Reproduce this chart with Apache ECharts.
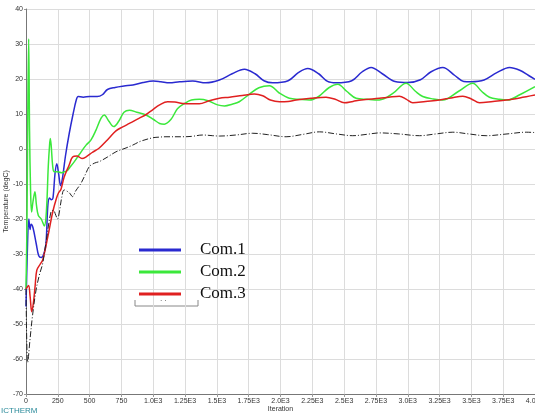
<!DOCTYPE html>
<html>
<head>
<meta charset="utf-8">
<script src="https://cdn.jsdelivr.net/npm/echarts@6/dist/echarts.min.js"></script>
<style>html,body{margin:0;padding:0;background:#fff}#c{width:535px;height:415px}</style>
</head>
<body>
<div id="c"></div>
<script>
// ---- data ----
const seriesNames = ['Com.1', 'Com.2', 'Com.3'];
const xTicks = [0, 250, 500, 750, 1000, 1250, 1500, 1750, 2000, 2250, 2500, 2750, 3000, 3250, 3500, 3750, 4000];

const com1 = [[0,-45],[10,-30],[22,-20],[32,-23],[40,-21.5],[55,-22.5],[80,-27],[100,-30.5],[120,-31],[140,-30],[157,-27],[172,-16],[185,-14],[200,-14.5],[212,-14],[228,-7],[242,-4.2],[256,-7],[272,-10.5],[288,-8],[310,-2],[340,4.5],[370,10],[395,14],[410,15],[450,14.8],[500,15],[560,15],[600,15.5],[640,17],[700,17.6],[770,18],[840,18.3],[920,19],[1000,19.4],[1060,19.2],[1127,18.9],[1207,19.2],[1310,19.4],[1413,18.9],[1520,19.7],[1620,21.5],[1716,22.8],[1800,21.5],[1870,19.5],[1939,18.9],[2060,19.5],[2140,21.8],[2214,23],[2300,21.5],[2370,19.3],[2437,18.9],[2560,19.5],[2640,22],[2712,23.3],[2800,21.5],[2900,19.3],[3000,19],[3100,19.8],[3180,22],[3275,23.3],[3370,21],[3440,19.3],[3498,19.2],[3600,19.7],[3700,21.8],[3800,23.3],[3880,22.5],[3950,21],[4000,19.9]];

const com2 = [[0,-40],[8,-20],[14,10],[21,31.5],[28,5],[36,-12],[44,-18],[55,-15],[70,-12.2],[82,-16],[97,-19],[120,-20],[144,-22],[160,-18],[175,-5],[185,1],[191,3],[198,1],[210,-5],[222,-6.5],[250,-6.5],[280,-6.8],[301,-6.5],[320,-6.3],[350,-5],[380,-3.6],[420,-1.5],[472,1.1],[511,2.6],[550,5.4],[590,8.8],[615,9.7],[650,8],[690,6.4],[730,8],[770,10.5],[813,11.1],[870,10.5],[943,9.7],[1000,8.5],[1050,7.3],[1087,7.1],[1140,8.5],[1190,11.5],[1245,13],[1300,14],[1362,14.2],[1430,13.8],[1506,12.6],[1560,12.3],[1620,12.8],[1676,13.5],[1750,15.5],[1830,17.5],[1913,18.1],[1990,16],[2070,14.5],[2150,14.2],[2227,14],[2300,15],[2380,17.5],[2450,18.5],[2520,16.5],[2594,14.5],[2680,14.2],[2777,14],[2880,15.8],[2987,18.8],[3060,16.5],[3118,15],[3200,14.3],[3275,14],[3400,16.5],[3511,18.8],[3580,16.5],[3642,14.8],[3720,14.2],[3786,14],[3880,15.5],[4000,17.8]];

const com3 = [[0,-40],[20,-39],[32,-42],[45,-46.5],[58,-44],[72,-39],[85,-34.6],[110,-33],[131,-31.7],[155,-28],[180,-23.5],[210,-18],[240,-14],[256,-12.5],[275,-11.5],[300,-8],[340,-4.5],[366,-2.3],[400,-2],[440,-2.7],[470,-2.3],[520,-1],[576,0.3],[650,3],[707,5.2],[760,6.3],[813,7.3],[891,8.8],[950,10],[995,11.2],[1050,12.6],[1113,13.5],[1170,13.4],[1231,13],[1300,12.9],[1362,12.9],[1440,13.8],[1520,14.5],[1600,14.8],[1700,15.3],[1795,15.7],[1860,15.2],[1920,14],[1992,13.5],[2060,13.6],[2123,14],[2240,14.5],[2358,14.8],[2430,14.2],[2502,13.2],[2570,13.6],[2634,14],[2777,14.5],[2850,14.8],[2934,15.1],[2990,14.2],[3039,13.2],[3140,13.6],[3249,14],[3340,14.6],[3433,15.1],[3500,14.3],[3564,13.2],[3670,13.6],[3774,14],[3880,14.6],[4000,15.4]];

const com4 = [[0,-40],[6,-55],[13,-61],[30,-55],[50,-48],[79,-40.3],[105,-36],[131,-32.7],[160,-26],[196,-18],[215,-17.5],[235,-19],[248,-20],[262,-18],[280,-14],[300,-11.7],[340,-12.5],[366,-13.6],[390,-12],[432,-9.8],[470,-7],[498,-5],[540,-4],[576,-3.6],[640,-2.3],[707,-0.8],[786,0.3],[838,1.1],[900,2.2],[995,3.2],[1050,3.4],[1100,3.5],[1231,3.5],[1300,3.6],[1389,4],[1467,3.8],[1520,3.7],[1650,4],[1782,4.5],[1900,4.1],[2044,3.5],[2180,4.2],[2306,4.9],[2440,4.3],[2568,3.8],[2680,4.2],[2777,4.6],[2930,4.3],[3092,3.8],[3220,4.3],[3354,4.8],[3480,4.3],[3616,3.8],[3780,4.3],[3931,4.8],[4000,4.7]];

function fmtX(v) {
  if (v < 1000) return String(v);
  let s = String(v / 1000);
  if (s.indexOf('.') < 0) s += '.0';
  return s + 'E3';
}

const chart = echarts.init(document.getElementById('c'), null, {renderer: 'canvas'});
const axisLabelStyle = {fontFamily: 'Liberation Sans', fontSize: 7, color: '#333'};
chart.setOption({
  animation: false,
  backgroundColor: '#fff',
  grid: {left: 26, right: 0, top: 9, bottom: 21, containLabel: false, outerBoundsMode: 'none'},
  xAxis: {
    type: 'value', min: 0, max: 4000, interval: 250,
    name: 'Iteration', nameLocation: 'middle', nameGap: 12, nameMoveOverlap: false,
    nameTextStyle: {fontFamily: 'Liberation Sans', fontSize: 7, color: '#333'},
    axisLine: {onZero: false, lineStyle: {color: '#777', width: 1}},
    axisTick: {show: true, length: 3, lineStyle: {color: '#999'}},
    axisLabel: Object.assign({margin: 4, formatter: fmtX, showMaxLabel: true, hideOverlap: false}, axisLabelStyle),
    splitLine: {show: true, lineStyle: {color: '#dcdcdc', width: 1}}
  },
  yAxis: {
    type: 'value', min: -70, max: 40, interval: 10,
    name: 'Temperature (degC)', nameLocation: 'middle', nameGap: 16, nameRotate: 90, nameMoveOverlap: false,
    nameTextStyle: {fontFamily: 'Liberation Sans', fontSize: 7, color: '#333'},
    axisLine: {show: true, onZero: false, lineStyle: {color: '#777', width: 1}},
    axisTick: {show: true, length: 2, lineStyle: {color: '#999'}},
    axisLabel: Object.assign({margin: 3}, axisLabelStyle),
    splitLine: {show: true, lineStyle: {color: '#dcdcdc', width: 1}}
  },
  legend: {
    data: seriesNames,
    orient: 'vertical', left: 134, top: 234,
    itemWidth: 42, itemHeight: 3, itemGap: 0, icon: 'rect',
    textStyle: {fontFamily: 'Liberation Serif', fontSize: 17, color: '#111', lineHeight: 22, padding: [0, 0, 0, 14]}
  },
  graphic: [
    {type: 'polyline', shape: {points: [[135, 300], [135, 306], [198, 306], [198, 300]]}, style: {stroke: '#888', lineWidth: 1, fill: null}},
    {type: 'text', left: 160, top: 298, style: {text: '· ·', fontSize: 7, fill: '#555'}},
    {type: 'text', left: 1, top: 407, style: {text: 'ICTHERM', fontFamily: 'Liberation Sans', fontSize: 8, fill: '#2a8a9a'}}
  ],
  series: [
    {name: 'Com.1', type: 'line', data: com1, smooth: 0.35, showSymbol: false, color: '#2a2ad0', lineStyle: {width: 1.5, color: '#2a2ad0'}},
    {name: 'Com.2', type: 'line', data: com2, smooth: 0.35, showSymbol: false, color: '#3be83b', lineStyle: {width: 1.5, color: '#3be83b'}},
    {name: 'Com.3', type: 'line', data: com3, smooth: 0.35, showSymbol: false, color: '#e02020', lineStyle: {width: 1.5, color: '#e02020'}},
    {name: 'base', type: 'line', data: com4, smooth: 0.35, showSymbol: false, color: '#222', lineStyle: {width: 1, color: '#222', type: [6, 2, 1, 2]}}
  ]
});
</script>
</body>
</html>
